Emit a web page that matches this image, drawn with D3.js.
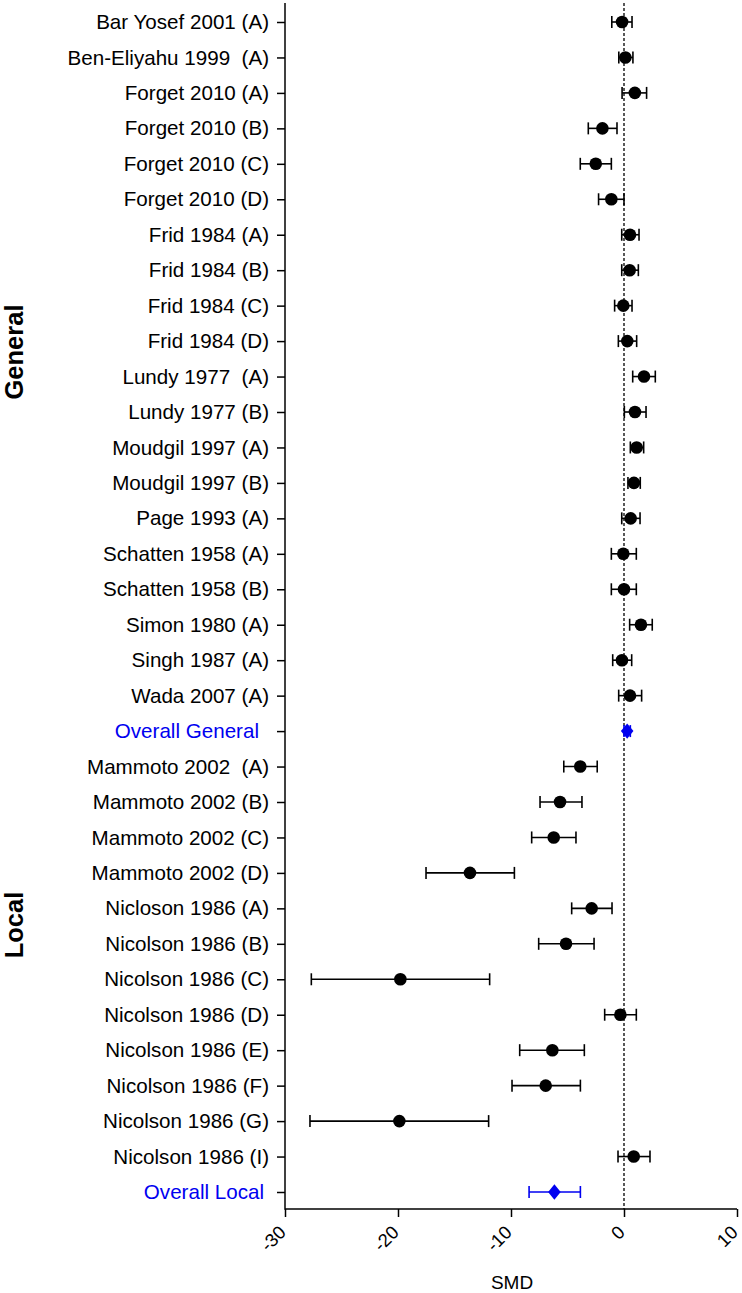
<!DOCTYPE html>
<html>
<head>
<meta charset="utf-8">
<script src="https://cdn.jsdelivr.net/npm/d3@7"></script>
<style>
  html, body { margin: 0; padding: 0; background: #fff; }
  svg { display: block; }
  text { font-family: "Liberation Sans", Arial, sans-serif; white-space: pre; }
</style>
</head>
<body>
<svg id="chart" width="742" height="1293"></svg>
<script>
// ---- data ----
const studies = [
  "Bar Yosef 2001 (A)", "Ben-Eliyahu 1999  (A)", "Forget 2010 (A)", "Forget 2010 (B)",
  "Forget 2010 (C)", "Forget 2010 (D)", "Frid 1984 (A)", "Frid 1984 (B)", "Frid 1984 (C)",
  "Frid 1984 (D)", "Lundy 1977  (A)", "Lundy 1977 (B)", "Moudgil 1997 (A)", "Moudgil 1997 (B)",
  "Page 1993 (A)", "Schatten 1958 (A)", "Schatten 1958 (B)", "Simon 1980 (A)", "Singh 1987 (A)",
  "Wada 2007 (A)", "Overall General", "Mammoto 2002  (A)", "Mammoto 2002 (B)", "Mammoto 2002 (C)",
  "Mammoto 2002 (D)", "Nicloson 1986 (A)", "Nicolson 1986 (B)", "Nicolson 1986 (C)",
  "Nicolson 1986 (D)", "Nicolson 1986 (E)", "Nicolson 1986 (F)", "Nicolson 1986 (G)",
  "Nicolson 1986 (I)", "Overall Local"
];
const smd = [
  -0.17, 0.12, 0.96, -1.91, -2.5, -1.12, 0.53, 0.5, -0.06, 0.29, 1.77, 0.97, 1.12, 0.88,
  0.59, -0.06, 0.0, 1.5, -0.18, 0.53, 0.28, -3.87, -5.66, -6.22, -13.63, -2.86, -5.13,
  -19.79, -0.32, -6.34, -6.93, -19.88, 0.86, -6.16
];
const lower = [
  -1.08, -0.46, -0.17, -3.16, -3.87, -2.25, -0.2, -0.2, -0.83, -0.5, 0.77, 0.03, 0.56, 0.35,
  -0.2, -1.12, -1.12, 0.5, -1.0, -0.47, 0.0, -5.33, -7.43, -8.17, -17.52, -4.63, -7.55,
  -27.67, -1.71, -9.23, -9.91, -27.79, -0.53, -8.4
];
const upper = [
  0.71, 0.79, 2.0, -0.62, -1.12, 0.0, 1.33, 1.27, 0.71, 1.12, 2.77, 1.95, 1.74, 1.44,
  1.42, 1.09, 1.09, 2.5, 0.68, 1.56, 0.56, -2.37, -3.72, -4.25, -9.7, -1.06, -2.65,
  -11.89, 1.09, -3.51, -3.86, -11.98, 2.3, -3.86
];
const overallRows = ["Overall General", "Overall Local"];
const groupNames = ["General", "Local"];
const xTicks = [-30, -20, -10, 0, 10];
const xTitle = "SMD";

// ---- layout ----
const svg = d3.select("#chart");
const mLeft = 285, mRight = 737, mTop = 3, mBottom = 1209;
const x = d3.scaleLinear().domain([-30, 10]).range([mLeft, mRight]);
const y = d3.scalePoint().domain(studies).range([22, 1192]);
const blue = "#0000f0";
const groupLabelY = [352, 925];
const overallDx = { "Overall General": -10, "Overall Local": -5 };

const rows = studies.map((s, i) => ({ s, v: smd[i], lo: lower[i], hi: upper[i], overall: overallRows.includes(s) }));

// zero reference line (dotted)
svg.append("line")
  .attr("x1", x(0)).attr("x2", x(0)).attr("y1", mTop).attr("y2", mBottom)
  .attr("stroke", "#000").attr("stroke-width", 1.3).attr("stroke-dasharray", "3,2");

// y axis
const yAxis = d3.axisLeft(y).tickSize(8).tickPadding(8);
const gy = svg.append("g").attr("transform", `translate(${mLeft},0)`).call(yAxis);
gy.select(".domain").remove();
gy.selectAll(".tick line").attr("stroke-width", 1.5);
gy.selectAll(".tick text")
  .style("font-size", "20.6px")
  .attr("fill", d => overallRows.includes(d) ? blue : "#000")
  .attr("dx", d => overallDx[d] || 0);
svg.append("line").attr("x1", mLeft).attr("x2", mLeft).attr("y1", mTop).attr("y2", mBottom + 0.75)
  .attr("stroke", "#000").attr("stroke-width", 1.5);

// x axis
const xAxis = d3.axisBottom(x).tickValues(xTicks).tickSize(8).tickFormat(d3.format("d"));
const gx = svg.append("g").attr("transform", `translate(0,${mBottom})`).call(xAxis);
gx.select(".domain").attr("stroke-width", 1.5).attr("d", `M${mLeft},0H${mRight}`);
gx.selectAll(".tick line").attr("stroke-width", 1.5);
gx.selectAll(".tick text")
  .style("font-size", "18.5px")
  .attr("text-anchor", "end")
  .attr("dy", "0.35em")
  .attr("transform", "translate(-3,20) rotate(-45)")
  .attr("x", 0).attr("y", 0)
  .text(d => String(d));

// x title
svg.append("text").attr("x", (x(-30) + x(10)) / 2 + 1).attr("y", 1289)
  .attr("text-anchor", "middle").style("font-size", "19px").text(xTitle);

// group labels
groupNames.forEach((name, i) => {
  svg.append("text")
    .attr("transform", `translate(23,${groupLabelY[i]}) rotate(-90)`)
    .attr("text-anchor", "middle")
    .style("font-size", "25.5px").style("font-weight", "bold")
    .text(name);
});

// error bars
const cap = 6;
const eb = svg.append("g").selectAll("g").data(rows).join("g")
  .attr("stroke", d => d.overall ? blue : "#000").attr("stroke-width", 1.6);
eb.append("line").attr("x1", d => x(d.lo)).attr("x2", d => x(d.hi))
  .attr("y1", d => y(d.s)).attr("y2", d => y(d.s));
eb.append("line").attr("x1", d => x(d.lo)).attr("x2", d => x(d.lo))
  .attr("y1", d => y(d.s) - cap).attr("y2", d => y(d.s) + cap);
eb.append("line").attr("x1", d => x(d.hi)).attr("x2", d => x(d.hi))
  .attr("y1", d => y(d.s) - cap).attr("y2", d => y(d.s) + cap);

// points
svg.append("g").selectAll("circle").data(rows.filter(d => !d.overall)).join("circle")
  .attr("cx", d => x(d.v)).attr("cy", d => y(d.s)).attr("r", 6.3).attr("fill", "#000");

// overall diamonds
const diamond = d3.symbol().type(d3.symbolDiamond).size(68);
svg.append("g").selectAll("path").data(rows.filter(d => d.overall)).join("path")
  .attr("transform", d => `translate(${x(d.v)},${y(d.s)}) scale(1.42,1)`)
  .attr("d", diamond).attr("fill", blue);
</script>
</body>
</html>
